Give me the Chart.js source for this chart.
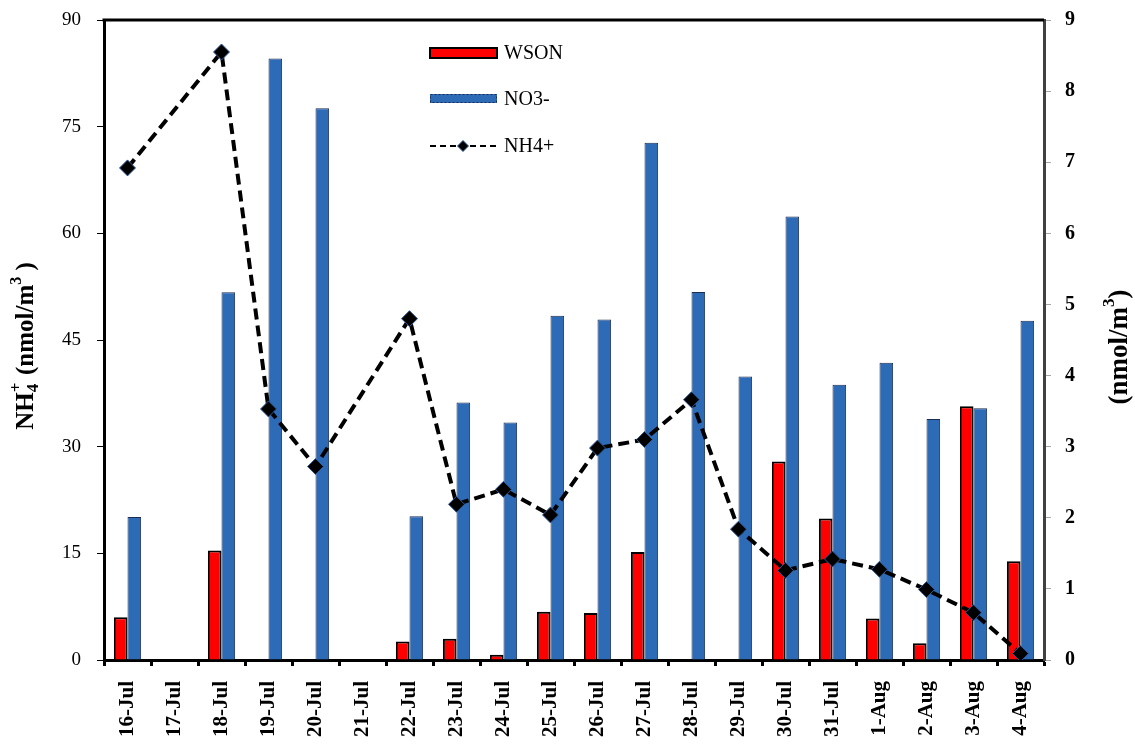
<!DOCTYPE html>
<html>
<head>
<meta charset="utf-8">
<script src="https://cdn.jsdelivr.net/npm/chart.js@4.4.1/dist/chart.umd.min.js"></script>
<style>
  html, body { margin: 0; padding: 0; background: #ffffff; }
  #wrap { width: 1135px; height: 745px; }
</style>
</head>
<body>
<div id="wrap"><canvas id="c" width="1135" height="745"></canvas></div>
<script>
// Sampling days
const dates = ['16-Jul', '17-Jul', '18-Jul', '19-Jul', '20-Jul', '21-Jul', '22-Jul', '23-Jul', '24-Jul', '25-Jul',
               '26-Jul', '27-Jul', '28-Jul', '29-Jul', '30-Jul', '31-Jul', '1-Aug', '2-Aug', '3-Aug', '4-Aug'];

// NH4+ (nmol/m3), left axis
const nh4 = [69.2, null, 85.5, 35.3, 27.2, null, 48.0, 21.9, 24.0, 20.4,
             29.8, 31.0, 36.6, 18.4, 12.6, 14.2, 12.75, 9.9, 6.65, 0.9];

// WSON and NO3- (nmol/m3), right axis
const wson = [0.60, null, 1.54, null, null, null, 0.26, 0.30, 0.075, 0.68,
              0.66, 1.52, null, null, 2.79, 1.99, 0.585, 0.235, 3.57, 1.39];
const no3 = [2.01, null, 5.17, 8.46, 7.76, null, 2.02, 3.62, 3.34, 4.84,
             4.79, 7.275, 5.175, 3.985, 6.235, 3.87, 4.18, 3.39, 3.54, 4.77];

// Axis ranges
const leftRange = { min: 0, max: 90, step: 15 };
const rightRange = { min: 0, max: 9, step: 1 };

const SERIF = "'Liberation Serif', 'Times New Roman', serif";
const RED = '#ff0000';
const BLUE = '#2e6bb7';
const NAVY = '#1a2d52';

// Draws a run of text pieces (with sub/superscripts) rotated to read bottom-to-top
function drawRotatedRich(ctx, cx, cy, pieces) {
  ctx.save();
  ctx.translate(cx, cy);
  ctx.rotate(-Math.PI / 2);
  ctx.fillStyle = '#000';
  ctx.textBaseline = 'middle';
  ctx.textAlign = 'left';
  let total = 0;
  const widths = pieces.map(p => {
    ctx.font = 'bold ' + p.size + 'px ' + SERIF;
    const w = ctx.measureText(p.t).width;
    if (!p.stack) total += (p.adv !== undefined ? p.adv : w);
    return w;
  });
  let x = -total / 2;
  pieces.forEach((p, i) => {
    ctx.font = 'bold ' + p.size + 'px ' + SERIF;
    ctx.fillText(p.t, x, p.dy || 0);
    if (!p.stack) x += (p.adv !== undefined ? p.adv : widths[i]);
  });
  ctx.restore();
}

const decorations = {
  id: 'decorations',
  afterDatasetsDraw(chart) {
    const ctx = chart.ctx;
    const area = chart.chartArea;

    // top frame line
    ctx.save();
    ctx.strokeStyle = '#000';
    ctx.lineWidth = 3;
    ctx.beginPath();
    ctx.moveTo(area.left - 1.5, area.top);
    ctx.lineTo(area.right, area.top);
    ctx.stroke();
    ctx.restore();

    // legend
    ctx.save();
    const lx = 430, lw = 67, tx = 504;
    ctx.fillStyle = RED;
    ctx.fillRect(lx, 48, lw, 10);
    ctx.strokeStyle = '#000';
    ctx.lineWidth = 2;
    ctx.strokeRect(lx, 48, lw, 10);

    ctx.fillStyle = BLUE;
    ctx.fillRect(lx, 94, lw, 9);
    ctx.strokeStyle = NAVY;
    ctx.lineWidth = 1;
    ctx.setLineDash([2, 2]);
    ctx.strokeRect(lx + 0.5, 94.5, lw - 1, 8);

    ctx.setLineDash([6, 4]);
    ctx.lineWidth = 2.2;
    ctx.strokeStyle = '#000';
    ctx.beginPath();
    ctx.moveTo(lx, 146);
    ctx.lineTo(lx + lw, 146);
    ctx.stroke();
    ctx.setLineDash([]);
    ctx.fillStyle = '#000';
    ctx.strokeStyle = '#2e5c9a';
    ctx.lineWidth = 1;
    ctx.beginPath();
    ctx.moveTo(463, 140.5);
    ctx.lineTo(468.5, 146);
    ctx.lineTo(463, 151.5);
    ctx.lineTo(457.5, 146);
    ctx.closePath();
    ctx.fill();
    ctx.stroke();

    ctx.fillStyle = '#000';
    ctx.font = '20px ' + SERIF;
    ctx.textBaseline = 'middle';
    ctx.textAlign = 'left';
    ctx.fillText('WSON', tx, 54);
    ctx.fillText('NO3-', tx, 100);
    ctx.fillText('NH4+', tx, 147);
    ctx.restore();

    // axis titles
    drawRotatedRich(ctx, 27, 346, [
      { t: 'NH', size: 25 },
      { t: '4', size: 17, dy: 7, stack: true },
      { t: '+', size: 17, dy: -10, adv: 11 },
      { t: ' (nmol/m', size: 25 },
      { t: '3', size: 16, dy: -10 },
      { t: ' )', size: 25 }
    ]);
    drawRotatedRich(ctx, 1120, 347, [
      { t: '(nmol/m', size: 27 },
      { t: '3', size: 17, dy: -10 },
      { t: ')', size: 27 }
    ]);
  }
};

// vertical axes: fixed width, no extra label overflow padding
function fixVertical(width) {
  return function (scale) {
    scale.width = width;
    scale.paddingTop = 0;
    scale.paddingBottom = 0;
  };
}

new Chart(document.getElementById('c'), {
  data: {
    labels: dates,
    datasets: [
      {
        type: 'bar', label: 'WSON', data: wson, yAxisID: 'y1', order: 1,
        backgroundColor: RED, borderColor: '#000', borderWidth: 2,
        categoryPercentage: 0.58, barPercentage: 1.0
      },
      {
        type: 'bar', label: 'NO3-', data: no3, yAxisID: 'y1', order: 1,
        backgroundColor: BLUE, borderColor: NAVY, borderWidth: 1,
        categoryPercentage: 0.58, barPercentage: 1.0
      },
      {
        type: 'line', label: 'NH4+', data: nh4, yAxisID: 'y', order: 0,
        borderColor: '#000', borderWidth: 4, borderDash: [11, 6], fill: false,
        tension: 0, spanGaps: true,
        pointStyle: 'rectRot', pointRadius: 8, pointHoverRadius: 8,
        pointBackgroundColor: '#000', pointBorderColor: '#2e5c9a', pointBorderWidth: 1
      }
    ]
  },
  options: {
    responsive: false,
    devicePixelRatio: 1,
    animation: false,
    layout: { padding: { top: 20, left: 0, right: 0, bottom: 0 } },
    plugins: { legend: { display: false }, tooltip: { enabled: false } },
    scales: {
      x: {
        type: 'category',
        offset: true,
        grid: { display: true, offset: true, drawOnChartArea: false, drawTicks: true,
                tickLength: 6, tickWidth: 3, tickColor: '#000' },
        border: { display: true, color: '#000', width: 3 },
        ticks: { autoSkip: false, minRotation: 90, maxRotation: 90, padding: 15, color: '#000',
                 font: { family: SERIF, size: 21, weight: 'bold' } },
        afterFit(scale) {
          scale.height = 85;
          scale.paddingLeft = 0;
          scale.paddingRight = 0;
        }
      },
      y: {
        position: 'left',
        min: leftRange.min, max: leftRange.max,
        grid: { display: true, drawOnChartArea: false, drawTicks: true,
                tickLength: 7, tickWidth: 1, tickColor: '#000' },
        border: { display: true, color: '#000', width: 3 },
        ticks: { stepSize: leftRange.step, padding: 16, color: '#000',
                 font: { family: SERIF, size: 19 } },
        afterFit: fixVertical(104)
      },
      y1: {
        position: 'right',
        min: rightRange.min, max: rightRange.max,
        grid: { display: true, drawOnChartArea: false, drawTicks: true,
                tickLength: 7, tickWidth: 1, tickColor: '#a6a6a6' },
        border: { display: true, color: '#404040', width: 3 },
        ticks: { stepSize: rightRange.step, padding: 14, color: '#000',
                 font: { family: SERIF, size: 20, weight: 'bold' } },
        afterFit: fixVertical(91)
      }
    }
  },
  plugins: [decorations]
});
</script>
</body>
</html>
